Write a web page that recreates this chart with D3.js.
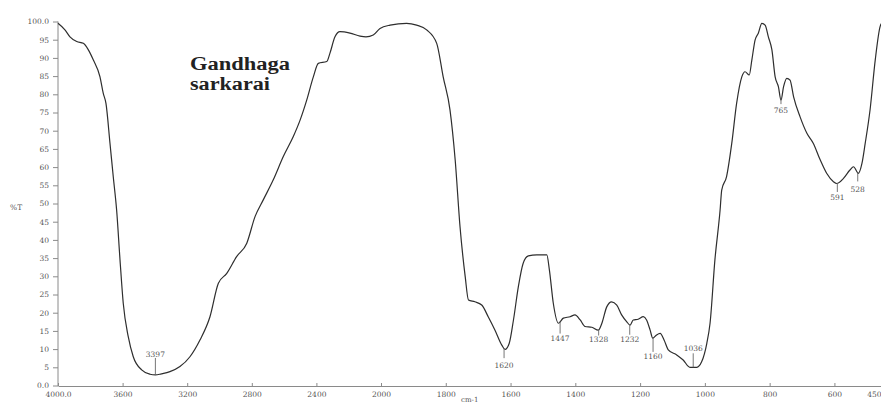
<!DOCTYPE html>
<html><head><meta charset="utf-8">
<script src="https://cdn.jsdelivr.net/npm/d3@7"></script>
<style>
html,body{margin:0;padding:0;background:#fff;overflow:hidden}
svg{display:block}
</style></head>
<body>
<svg id="c" width="881" height="403"></svg>
<script>
// ---- data ----
const wavenumber = [4000,3957,3926,3884,3843,3812,3781,3740,3720,3703,3678,3658,3637,3616,3596,3565,3534,3482,3430,3397,3360,3307,3245,3183,3121,3059,3007,2955,2894,2831,2780,2729,2667,2605,2543,2501,2460,2419,2388,2336,2316,2285,2254,2192,2130,2093,2048,2006,1972,1921,1890,1859,1828,1808,1787,1771,1756,1740,1730,1710,1689,1669,1648,1627,1617,1604,1591,1576,1561,1545,1519,1488,1480,1468,1452,1437,1416,1401,1385,1370,1349,1329,1318,1303,1288,1272,1257,1241,1231,1221,1206,1190,1180,1169,1161,1149,1138,1126,1113,1087,1067,1046,1025,1010,994,984,969,953,948,933,917,902,886,876,863,855,845,835,824,814,804,793,783,773,765,757,747,737,726,706,685,665,644,624,603,593,572,552,541,526,515,505,490,474,459,450];
const transmittance = [99.5,97.7,95.8,94.5,94.0,92.2,89.4,84.8,80.3,77.5,66.5,57.4,48.2,34.5,22.6,13.4,7.9,4.3,3.1,2.9,3.2,3.8,5.2,7.9,12.5,18.9,28.1,30.8,35.4,39.1,46.4,51.0,56.5,62.9,68.4,72.9,78.4,84.8,88.5,89.0,91.3,95.8,97.2,96.8,96.0,95.8,96.3,98.1,99.0,99.5,99.0,97.7,94.0,84.8,75.7,62.0,43.6,29.9,23.5,23.0,22.1,18.9,15.2,11.1,9.9,11.6,18.0,27.1,33.6,35.6,35.9,35.9,31.7,22.6,17.1,18.5,18.9,19.4,18.0,16.2,16.0,15.2,17.1,21.6,23.0,22.1,19.4,17.5,16.6,18.0,18.2,18.9,18.0,15.2,13.0,13.9,14.3,12.5,9.8,8.4,7.0,5.0,5.0,6.5,11.6,17.1,34.5,48.2,53.7,57.4,66.5,77.5,84.8,86.2,85.3,89.4,94.9,96.8,99.5,99.0,95.8,92.2,84.8,82.1,78.4,82.1,84.4,83.9,79.3,73.8,69.3,66.5,62.0,58.3,56.0,55.5,56.9,59.2,60.1,58.3,61.0,66.5,75.7,89.4,98.6,100];
const peakWavenumbers = [3397,1620,1447,1328,1232,1160,1036,765,591,528];
const peakLabels = ["3397","1620","1447","1328","1232","1160","1036","765","591","528"];
const xTickValues = [4000,3600,3200,2800,2400,2000,1800,1600,1400,1200,1000,800,600,450];
const xTickLabels = ["4000.0","3600","3200","2800","2400","2000","1800","1600","1400","1200","1000","800","600","450"];
const yTickValues = [0,5,10,15,20,25,30,35,40,45,50,55,60,65,70,75,80,85,90,95,100];
const yTickLabels = ["0.0","5","10","15","20","25","30","35","40","45","50","55","60","65","70","75","80","85","90","95","100.0"];
const sampleName = ["Gandhaga","sarkarai"];
const yAxisTitle = "%T";
const xAxisTitle = "cm-1";

// ---- layout ----
const svg = d3.select("#c");
const x = d3.scaleLinear().domain([4000,2000,450]).range([58,381,883]);
const y = d3.scaleLinear().domain([0,100]).range([385.5,21.5]);
const axisColor = "#8a8a8a", textColor = "#555", font = "DejaVu Serif";

// peak marker layout: direction (+1 down / -1 up), tick length, label offset from curve (px)
const peakLayout = {
  "3397":{dir:-1,len:17,lab:-21},
  "1620":{dir:1,len:10,lab:17},
  "1447":{dir:1,len:12,lab:17},
  "1328":{dir:1,len:6,lab:10},
  "1232":{dir:1,len:10,lab:15},
  "1160":{dir:1,len:14,lab:18},
  "1036":{dir:-1,len:14,lab:-19},
  "765":{dir:1,len:4,lab:10},
  "591":{dir:1,len:9,lab:14},
  "528":{dir:1,len:9,lab:17}
};

// axes
const yAxis = d3.axisLeft(y).tickValues(yTickValues)
  .tickFormat((d,i)=>yTickLabels[i]).tickSizeInner(5).tickSizeOuter(0).tickPadding(4);
const gy = svg.append("g").attr("transform","translate(58,0)").call(yAxis);
const xAxis = d3.axisBottom(x).tickValues(xTickValues)
  .tickFormat((d,i)=>xTickLabels[i]).tickSizeInner(-3).tickSizeOuter(0).tickPadding(6);
const gx = svg.append("g").attr("transform","translate(0,386)").call(xAxis);
[gx,gy].forEach(g=>{
  g.select(".domain").attr("stroke",axisColor).attr("stroke-width",1);
  g.selectAll(".tick line").attr("stroke",axisColor);
  g.selectAll(".tick text").attr("fill",textColor).attr("font-family",font).attr("font-size",7.5);
});
gy.select(".domain").attr("d","M0,"+y(100)+"V386");
// keep the last x label inside the window
gx.selectAll(".tick text").filter(d=>d===450).attr("text-anchor","end").attr("dx",-2);

svg.append("text").attr("x",10).attr("y",210).attr("fill",textColor)
  .attr("font-family",font).attr("font-size",7.5).text(yAxisTitle);
svg.append("text").attr("x",461).attr("y",402).attr("fill",textColor)
  .attr("font-family",font).attr("font-size",7).text(xAxisTitle);

// spectrum
const pts = wavenumber.map((w,i)=>[w,transmittance[i]]);
const line = d3.line().x(d=>x(d[0])).y(d=>y(d[1])).curve(d3.curveMonotoneX);
svg.append("path").datum(pts).attr("d",line).attr("fill","none")
  .attr("stroke","#2e2e2e").attr("stroke-width",1.2).attr("stroke-linejoin","round");

// peak markers
const asc = pts.slice().reverse();
const interp = w => {
  const i = d3.bisector(d=>d[0]).left(asc,w);
  if (i<=0) return asc[0][1];
  const a = asc[i-1], b = asc[i];
  return a[1] + (b[1]-a[1])*(w-a[0])/(b[0]-a[0]);
};
peakWavenumbers.forEach((w,i)=>{
  const L = peakLayout[peakLabels[i]];
  const px = x(w), py = y(interp(w));
  svg.append("line").attr("x1",px).attr("x2",px).attr("y1",py).attr("y2",py+L.dir*L.len)
    .attr("stroke","#666").attr("stroke-width",0.9);
  svg.append("text").attr("x",px).attr("y",py+L.lab).attr("dy","0.35em")
    .attr("text-anchor","middle").attr("fill",textColor)
    .attr("font-family",font).attr("font-size",7.5).text(peakLabels[i]);
});

// sample name
sampleName.forEach((t,i)=>{
  svg.append("text").attr("x",190).attr("y",70+i*20)
    .attr("font-family","Liberation Serif").attr("font-weight","bold").attr("font-size",18)
    .attr("fill","#222").attr("textLength",i===0?100:80).attr("lengthAdjust","spacingAndGlyphs").text(t);
});
</script>
</body></html>
